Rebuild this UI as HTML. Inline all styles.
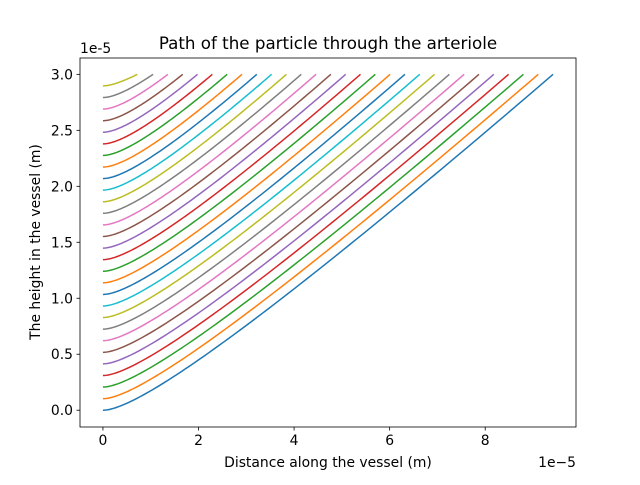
<!DOCTYPE html>
<html><head><meta charset="utf-8"><style>
body{margin:0;background:#fff}
svg text{font-family:"DejaVu Sans","Liberation Sans",sans-serif;fill:#000}
</style></head><body>
<svg id="chart" width="640" height="480">
<rect width="640" height="480" fill="#fff"/>
<text x="328" y="49" font-size="16.7" text-anchor="middle">Path of the particle through the arteriole</text>
<text x="328" y="467" font-size="13.9" text-anchor="middle">Distance along the vessel (m)</text>
<text transform="translate(40,242) rotate(-90)" font-size="13.9" text-anchor="middle">The height in the vessel (m)</text>
<text x="80" y="53" font-size="13.9">1e-5</text>
<text x="576" y="467" font-size="13.9" text-anchor="end">1e−5</text>
<g id="lines"></g>
<g id="axes"></g>
</svg>
<script>
const startY=[0,0.103,0.207,0.310,0.414,0.517,0.621,0.724,0.828,0.931,1.034,1.138,1.241,1.345,1.448,1.552,1.655,1.759,1.862,1.966,2.069,2.172,2.276,2.379,2.483,2.586,2.690,2.793,2.897];
const endX=[9.42,9.11,8.80,8.49,8.18,7.87,7.56,7.25,6.94,6.63,6.32,6.01,5.70,5.39,5.08,4.77,4.46,4.15,3.84,3.53,3.22,2.91,2.60,2.29,1.98,1.67,1.36,1.05,0.72];
const topY=3.0;
const xTicks=[0,2,4,6,8];
const yTicks=[0,0.5,1.0,1.5,2.0,2.5,3.0];
const yTickLabels=["0.0","0.5","1.0","1.5","2.0","2.5","3.0"];
const colors=["#1f77b4","#ff7f0e","#2ca02c","#d62728","#9467bd","#8c564b","#e377c2","#7f7f7f","#bcbd22","#17becf"];
const L=80,R=576,T=58,B=427,xmin=-0.48,xmax=9.9,ymin=-0.15,ymax=3.146;
const sx=v=>L+(v-xmin)/(xmax-xmin)*(R-L);
const sy=v=>B-(v-ymin)/(ymax-ymin)*(B-T);
const NS="http://www.w3.org/2000/svg";
const lg=document.getElementById('lines');
const bShape=1.436;
startY.forEach((y0,i)=>{
  const D=topY-y0;
  const a=(endX[i]-bShape*Math.sqrt(D))/D;
  let pts=[];
  for(let k=0;k<=80;k++){const d=D*Math.pow(k/80,2);pts.push(sx(a*d+bShape*Math.sqrt(d)).toFixed(2)+","+sy(y0+d).toFixed(2));}
  const p=document.createElementNS(NS,'polyline');
  p.setAttribute('points',pts.join(' '));
  p.setAttribute('fill','none');p.setAttribute('stroke',colors[i%10]);p.setAttribute('stroke-width','1.5');
  
  
  lg.appendChild(p);
});
const ax=document.getElementById('axes');
const fr=document.createElementNS(NS,'rect');
fr.setAttribute('x',L);fr.setAttribute('y',T);fr.setAttribute('width',R-L);fr.setAttribute('height',B-T);
fr.setAttribute('fill','none');fr.setAttribute('stroke','#000');fr.setAttribute('stroke-width','0.8');


ax.appendChild(fr);
xTicks.forEach(v=>{
  const x=sx(v);
  const l=document.createElementNS(NS,'line');
  l.setAttribute('x1',x);l.setAttribute('x2',x);l.setAttribute('y1',B);l.setAttribute('y2',B+3.5);l.setAttribute('stroke','#000');l.setAttribute('stroke-width','0.8');
  
  
  ax.appendChild(l);
  const t=document.createElementNS(NS,'text');
  t.setAttribute('x',x);t.setAttribute('y',B+18);t.setAttribute('font-size','13.9');t.setAttribute('text-anchor','middle');t.textContent=v;
  
  
  ax.appendChild(t);
});
yTicks.forEach((v,i)=>{
  const y=sy(v);
  const l=document.createElementNS(NS,'line');
  l.setAttribute('x1',L-3.5);l.setAttribute('x2',L);l.setAttribute('y1',y);l.setAttribute('y2',y);l.setAttribute('stroke','#000');l.setAttribute('stroke-width','0.8');
  
  
  ax.appendChild(l);
  const t=document.createElementNS(NS,'text');
  t.setAttribute('x',L-7);t.setAttribute('y',y+5);t.setAttribute('font-size','13.9');t.setAttribute('text-anchor','end');t.textContent=yTickLabels[i];
  
  
  ax.appendChild(t);
});
</script>
</body></html>
